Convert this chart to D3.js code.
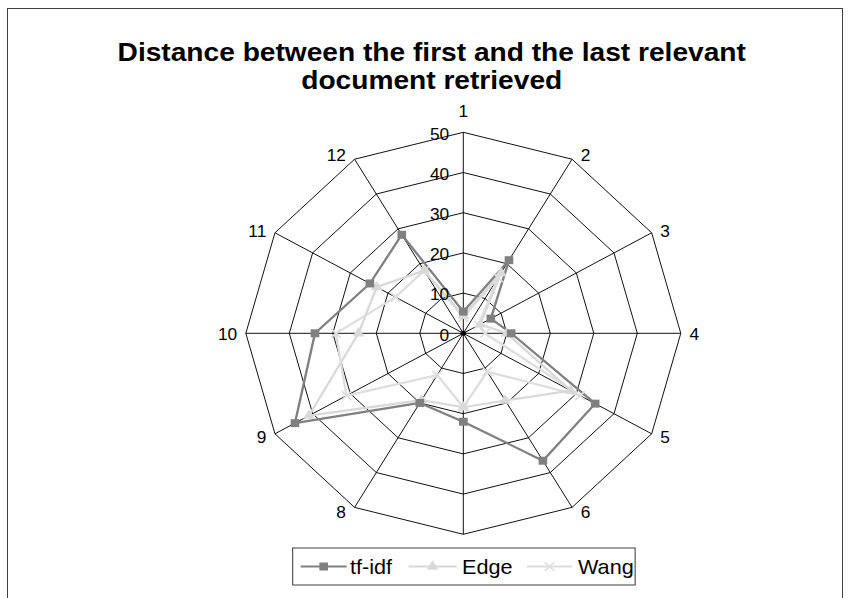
<!DOCTYPE html>
<html><head><meta charset="utf-8">
<script src="https://cdn.jsdelivr.net/npm/d3@7"></script>
<style>
html,body{margin:0;padding:0;background:#fff;}
svg{display:block;font-family:"Liberation Sans",Arial,sans-serif;}
</style></head>
<body>
<svg id="chart" width="851" height="598"></svg>
<script>
const categories = ["1","2","3","4","5","6","7","8","9","10","11","12"];
const tfidf = [5.4, 21, 7.3, 11, 35, 36.6, 22, 20, 44.7, 34.1, 24.8, 28.3];
const edge  = [4.4, 17.3, 4.5, 10, 28.5, 19.3, 18.4, 19.2, 41, 24.1, 23, 18];
const wang  = [4, 16, 4, 5, 31, 11, 18.4, 12, 31, 29.3, 18, 18];
const tickValues = [0, 10, 20, 30, 40, 50];
const seriesNames = ["tf-idf", "Edge", "Wang"];
const titleLines = ["Distance between the first and the last relevant", "document retrieved"];

const SX = 1.082;
const svg = d3.select("#chart");
// frame
svg.append("rect").attr("x", 7.5).attr("y", 8.5).attr("width", 835).attr("height", 600)
  .attr("fill", "#fff").attr("stroke", "#404040").attr("stroke-width", 1);

const g = svg.append("g").attr("transform", `scale(${SX},1)`);
const cx = 428.2, cy = 333.3, R = 201;

const r = d3.scaleLinear().domain([0, 50]).range([0, R]);
const ang = d3.scaleLinear().domain([0, categories.length]).range([0, 2 * Math.PI]);
const px = (i, v) => cx + r(v) * Math.sin(ang(i));
const py = (i, v) => cy - r(v) * Math.cos(ang(i));

// title
const title = g.append("text").attr("text-anchor", "middle").attr("font-weight", "bold")
  .attr("font-size", 26).attr("fill", "#000");
titleLines.forEach((t, k) => title.append("tspan").attr("x", 399).attr("y", 61.5 + k * 28).text(t));

const plot = g.append("g").attr("transform", `translate(${cx},${cy})`);
const radial = d3.lineRadial().angle((d, i) => ang(i)).radius(d => r(d)).curve(d3.curveLinearClosed);

// grid rings
tickValues.filter(t => t > 0).forEach(t => {
  plot.append("path").attr("d", radial(categories.map(() => t)))
    .attr("fill", "none").attr("stroke", "#000").attr("stroke-width", 0.9);
});
// spokes
categories.forEach((c, i) => {
  plot.append("line").attr("x1", 0).attr("y1", 0)
    .attr("x2", r(50) * Math.sin(ang(i))).attr("y2", -r(50) * Math.cos(ang(i)))
    .attr("stroke", "#000").attr("stroke-width", 0.9);
});

// series
const series = [
  {name: seriesNames[0], values: tfidf, color: "#808080", marker: "square"},
  {name: seriesNames[1], values: edge, color: "#d9d9d9", marker: "triangle"},
  {name: seriesNames[2], values: wang, color: "#dedede", marker: "x"}
];
function drawMarker(sel, type, x, y, color) {
  if (type === "square") {
    sel.append("path").attr("d", d3.symbol(d3.symbolSquare, 64)()).attr("transform", `translate(${x},${y})`)
      .attr("fill", color);
  } else if (type === "triangle") {
    sel.append("path").attr("d", d3.symbol(d3.symbolTriangle, 52)()).attr("transform", `translate(${x},${y})`)
      .attr("fill", color);
  } else {
    const s = 4.5;
    sel.append("path").attr("d", `M${-s},${-s}L${s},${s}M${-s},${s}L${s},${-s}`)
      .attr("transform", `translate(${x},${y})`).attr("fill", "none").attr("stroke", color).attr("stroke-width", 1.6);
  }
}
[series[2], series[1], series[0]].forEach(s => {
  plot.append("path").attr("d", radial(s.values)).attr("fill", "none")
    .attr("stroke", s.color).attr("stroke-width", 2.2).attr("stroke-linejoin", "round");
});
[series[2], series[1], series[0]].forEach(s => {
  s.values.forEach((v, i) => drawMarker(plot, s.marker, r(v) * Math.sin(ang(i)), -r(v) * Math.cos(ang(i)), s.color));
});
// center dot
plot.append("circle").attr("r", 2.5).attr("fill", "#000");

// tick labels
tickValues.forEach(t => {
  g.append("text").attr("x", cx - 13).attr("y", cy - r(t) + 2).attr("text-anchor", "end")
    .attr("dominant-baseline", "central").attr("font-size", 16).attr("fill", "#000").text(t);
});

// legend box geometry (unscaled coordinates)
const legBox = {x: 270.5, y: 548, w: 316.5, h: 37};

// category labels (a label that falls under the legend box is hidden there, as in the original)
categories.forEach((c, i) => {
  const a = ang(i), s = Math.sin(a), co = Math.cos(a);
  const vx = px(i, 50), vy = py(i, 50);
  let x = vx, y = vy, anchor = "middle";
  if (Math.abs(s) < 0.01) { y = co > 0 ? vy - 21 : vy + 21; }
  else { anchor = s > 0 ? "start" : "end"; x = vx + (s > 0 ? 8 : -8); y = vy - 5 * co + 1; }
  if (y > legBox.y && y < legBox.y + legBox.h && x > legBox.x && x < legBox.x + legBox.w) return;
  g.append("text").attr("x", x).attr("y", y).attr("text-anchor", anchor)
    .attr("dominant-baseline", "central").attr("font-size", 16).attr("fill", "#000").text(c);
});

// legend
const lg = g.append("g");
lg.append("rect").attr("x", legBox.x).attr("y", legBox.y).attr("width", legBox.w).attr("height", legBox.h)
  .attr("fill", "#fff").attr("stroke", "#404040").attr("stroke-width", 1);
const lx = [[277.9, 320.4, 323.5], [377.4, 422.1, 427], [487, 528.7, 534.2]];
series.forEach((s, k) => {
  const [x1, x2, tx] = lx[k];
  const ly = legBox.y + legBox.h / 2;
  lg.append("line").attr("x1", x1).attr("x2", x2).attr("y1", ly).attr("y2", ly)
    .attr("stroke", s.color).attr("stroke-width", 2.2);
  drawMarker(lg, s.marker, (x1 + x2) / 2, ly, s.color);
  lg.append("text").attr("x", tx).attr("y", ly).attr("dominant-baseline", "central")
    .attr("font-size", 20).attr("fill", "#000").text(s.name);
});
</script>
</body></html>
